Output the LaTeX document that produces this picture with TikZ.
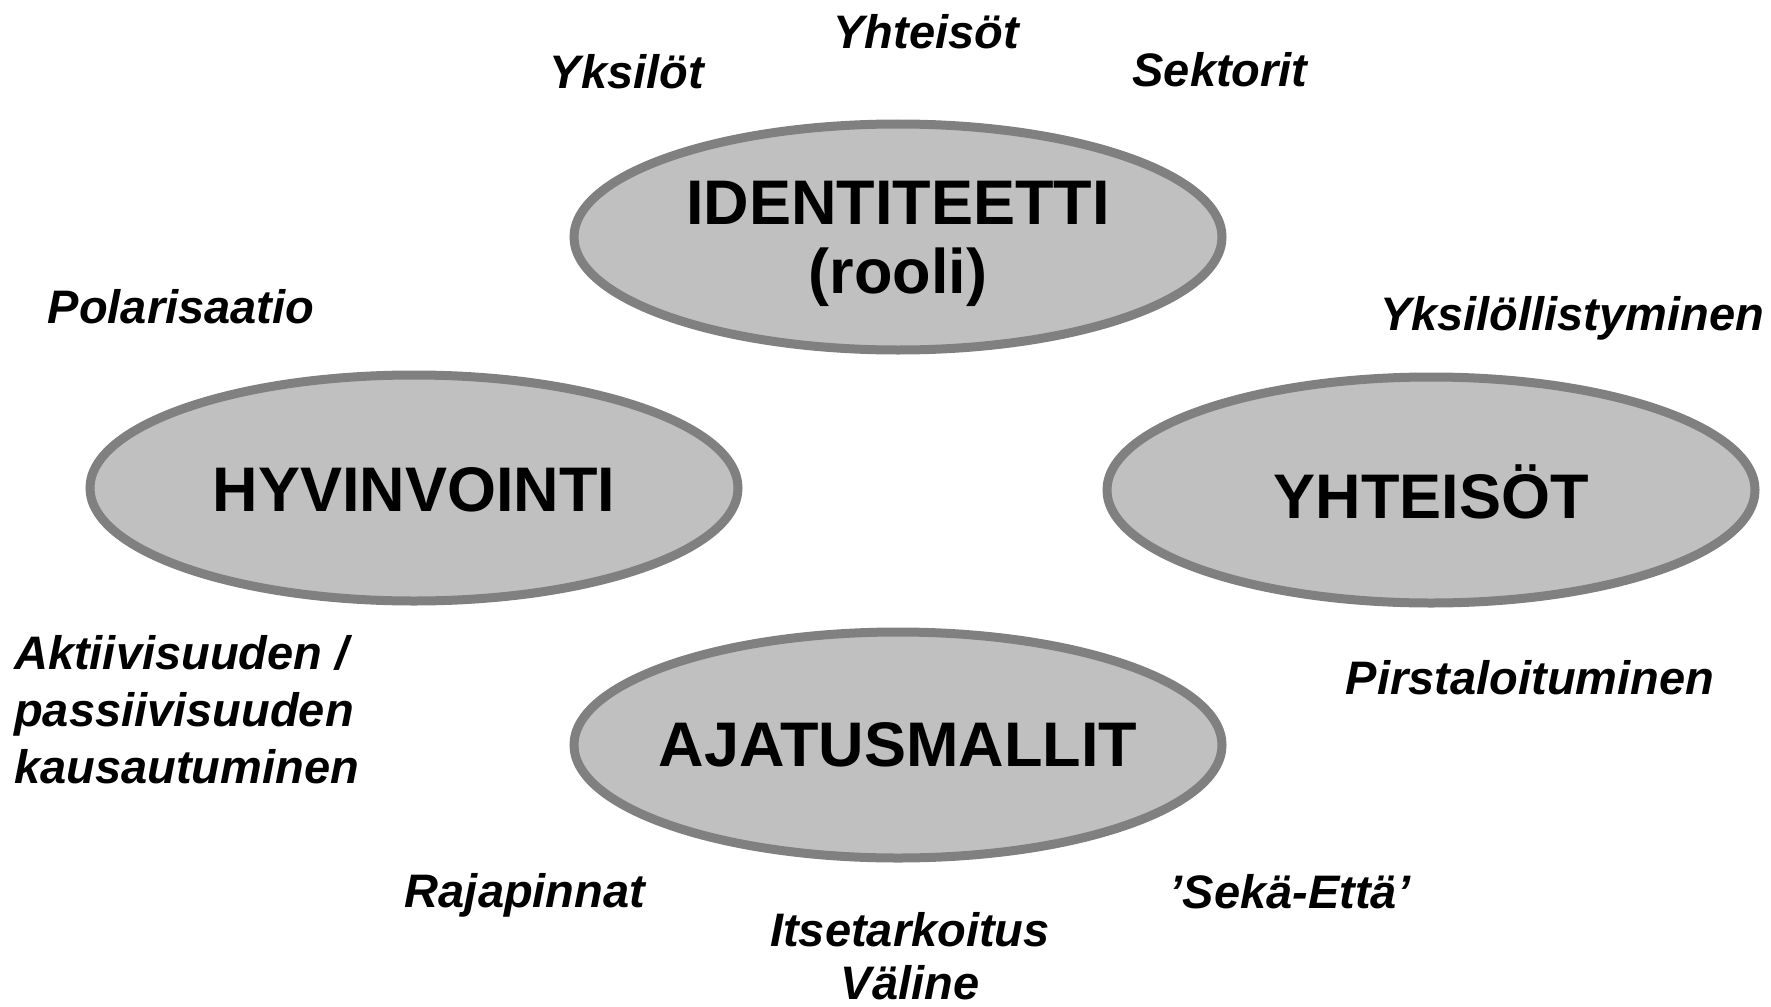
\documentclass[tikz,border=0pt]{standalone}
\usepackage{fontspec}
\setmainfont{Liberation Sans}
\usetikzlibrary{shapes.geometric}
\definecolor{ringgray}{HTML}{808080}
\definecolor{fillgray}{HTML}{C0C0C0}
\begin{document}
\begin{tikzpicture}[x=1pt,y=-1pt,
  oval/.style={ellipse, draw=ringgray, fill=fillgray, line width=9pt,
    minimum width=648pt, minimum height=226pt, inner sep=0pt},
  mainlbl/.style={font=\bfseries\fontsize{63}{72}\selectfont, align=center, inner sep=0pt},
  sidelbl/.style={font=\bfseries\itshape\fontsize{47}{57}\selectfont, inner sep=0pt}]
\useasboundingbox (0,0) rectangle (1771,1006);
% ellipses
\node[oval] (ident) at (898,237) {};
\node[oval] (hyvin) at (414,488) {};
\node[oval] (yhteis) at (1431,490) {};
\node[oval] (ajatus) at (898,745) {};
% main labels
\node[mainlbl] (identA) at (898,203) {IDENTITEETTI};
\node[mainlbl] (identB) at (898,277) {(rooli)};
\node[mainlbl] (hyvinL) at (414,490) {HYVINVOINTI};
\node[mainlbl] (yhteisL) at (1431,492) {YHTEISÖT};
\node[mainlbl] (ajatusL) at (898,745) {AJATUSMALLIT};
% side labels
\node[sidelbl] (yksilot) at (627,72) {Yksilöt};
\node[sidelbl] (yhteisot) at (926,32) {Yhteisöt};
\node[sidelbl] (sektorit) at (1220,70) {Sektorit};
\node[sidelbl] (polar) at (181,307) {Polarisaatio};
\node[sidelbl] (yksilol) at (1572,318) {Yksilöllistyminen};
\node[sidelbl, anchor=west, align=left] (aktiiv) at (14,710) {Aktiivisuuden /\\passiivisuuden\\kausautuminen};
\node[sidelbl] (pirsta) at (1530,678) {Pirstaloituminen};
\node[sidelbl] (raja) at (525,895) {Rajapinnat};
\node[sidelbl] (itse) at (910,930) {Itsetarkoitus};
\node[sidelbl] (valine) at (910,983) {Väline};
\node[sidelbl] (seka) at (1290,892) {’Sekä-Että’};
\end{tikzpicture}
\end{document}
